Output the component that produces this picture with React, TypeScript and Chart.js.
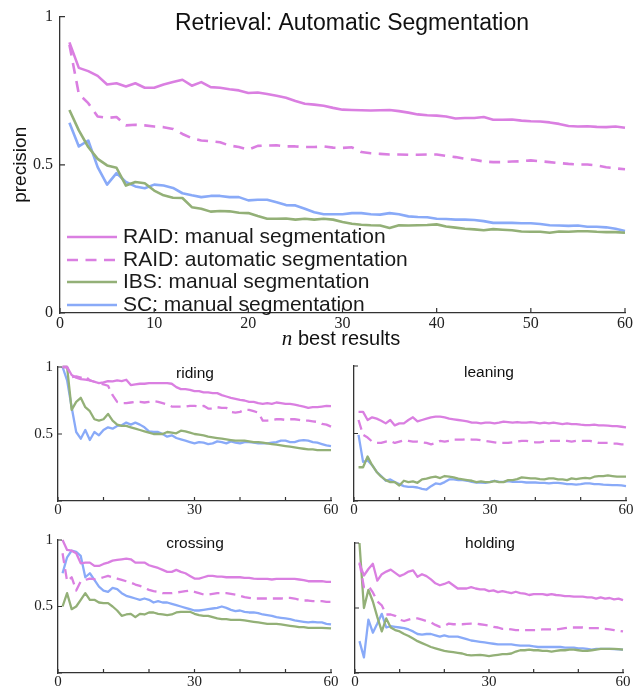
import React, { useEffect, useRef } from "react";
import { Chart, registerables } from "chart.js";

Chart.register(...registerables);

// ---------- data ----------
const nBest = [
  1, 2, 3, 4, 5, 6, 7, 8, 9, 10, 11, 12, 13, 14, 15, 16, 17, 18, 19, 20,
  21, 22, 23, 24, 25, 26, 27, 28, 29, 30, 31, 32, 33, 34, 35, 36, 37, 38, 39, 40,
  41, 42, 43, 44, 45, 46, 47, 48, 49, 50, 51, 52, 53, 54, 55, 56, 57, 58, 59, 60,
];

const seriesLabels = [
  "RAID: manual segmentation",
  "RAID: automatic segmentation",
  "IBS: manual segmentation",
  "SC: manual segmentation",
];

const mainTitle = "Retrieval: Automatic Segmentation";
const yAxisTitle = "precision";
const xAxisTitleItalic = "n";
const xAxisTitleRest = " best results";

const mainXTickLabels = [0, 10, 20, 30, 40, 50, 60];
const mainYTickLabels = [0, 0.5, 1];
const smallXTickLabels = [0, 30, 60];
const smallYTickLabels = [0.5, 1];

const mainRaidManual = [0.913, 0.827, 0.816, 0.8, 0.771, 0.775, 0.764, 0.775, 0.76, 0.76, 0.771, 0.779, 0.787, 0.767, 0.779, 0.762, 0.76, 0.755, 0.751, 0.742, 0.744, 0.739, 0.733, 0.726, 0.715, 0.706, 0.703, 0.699, 0.692, 0.686, 0.685, 0.684, 0.683, 0.684, 0.685, 0.681, 0.676, 0.67, 0.667, 0.666, 0.663, 0.656, 0.658, 0.658, 0.661, 0.652, 0.652, 0.653, 0.649, 0.647, 0.646, 0.643, 0.638, 0.631, 0.629, 0.63, 0.628, 0.627, 0.629, 0.625];
const mainRaidAuto = [0.905, 0.739, 0.708, 0.663, 0.658, 0.661, 0.633, 0.635, 0.633, 0.629, 0.627, 0.621, 0.604, 0.59, 0.582, 0.58, 0.576, 0.565, 0.56, 0.551, 0.564, 0.565, 0.566, 0.562, 0.562, 0.56, 0.56, 0.562, 0.558, 0.557, 0.559, 0.543, 0.539, 0.537, 0.535, 0.535, 0.534, 0.534, 0.535, 0.535, 0.53, 0.526, 0.52, 0.517, 0.511, 0.509, 0.509, 0.511, 0.512, 0.515, 0.512, 0.509, 0.506, 0.503, 0.501, 0.501, 0.498, 0.492, 0.488, 0.485];
const mainIbs = [0.685, 0.616, 0.56, 0.52, 0.498, 0.49, 0.43, 0.442, 0.438, 0.413, 0.397, 0.389, 0.388, 0.357, 0.352, 0.342, 0.344, 0.343, 0.338, 0.337, 0.327, 0.318, 0.318, 0.319, 0.315, 0.318, 0.315, 0.318, 0.315, 0.307, 0.301, 0.298, 0.296, 0.295, 0.287, 0.296, 0.295, 0.296, 0.297, 0.299, 0.292, 0.288, 0.284, 0.282, 0.279, 0.283, 0.281, 0.279, 0.275, 0.274, 0.274, 0.271, 0.275, 0.274, 0.276, 0.276, 0.274, 0.273, 0.273, 0.271];
const mainSc = [0.642, 0.562, 0.582, 0.492, 0.433, 0.472, 0.442, 0.427, 0.421, 0.433, 0.43, 0.422, 0.404, 0.397, 0.391, 0.395, 0.395, 0.391, 0.391, 0.38, 0.382, 0.382, 0.374, 0.364, 0.363, 0.352, 0.34, 0.333, 0.333, 0.333, 0.337, 0.337, 0.333, 0.332, 0.337, 0.333, 0.326, 0.324, 0.323, 0.318, 0.317, 0.315, 0.315, 0.314, 0.31, 0.304, 0.304, 0.304, 0.303, 0.303, 0.3, 0.296, 0.295, 0.294, 0.295, 0.291, 0.291, 0.289, 0.284, 0.277];

const ridingRaidManual = [1.0, 1.0, 0.94, 0.92, 0.91, 0.905, 0.9, 0.89, 0.88, 0.885, 0.895, 0.893, 0.9, 0.895, 0.905, 0.865, 0.87, 0.875, 0.875, 0.88, 0.88, 0.88, 0.88, 0.88, 0.875, 0.85, 0.835, 0.835, 0.83, 0.82, 0.82, 0.81, 0.81, 0.805, 0.805, 0.79, 0.78, 0.77, 0.763, 0.755, 0.75, 0.74, 0.74, 0.73, 0.725, 0.73, 0.725, 0.735, 0.73, 0.725, 0.725, 0.72, 0.712, 0.705, 0.695, 0.7, 0.7, 0.705, 0.71, 0.708];
const ridingRaidAuto = [1.0, 1.0, 0.925, 0.93, 0.92, 0.93, 0.9, 0.89, 0.88, 0.87, 0.86, 0.79, 0.74, 0.73, 0.73, 0.735, 0.74, 0.74, 0.735, 0.74, 0.745, 0.74, 0.73, 0.72, 0.705, 0.705, 0.705, 0.705, 0.71, 0.71, 0.705, 0.71, 0.69, 0.69, 0.7, 0.695, 0.695, 0.665, 0.66, 0.665, 0.68, 0.68, 0.67, 0.66, 0.6, 0.6, 0.605, 0.61, 0.61, 0.605, 0.61, 0.61, 0.605, 0.6, 0.6, 0.595, 0.59, 0.575, 0.57, 0.555];
const ridingIbs = [1.0, 1.0, 0.68, 0.74, 0.77, 0.7, 0.67, 0.61, 0.6, 0.61, 0.65, 0.6, 0.57, 0.56, 0.56, 0.55, 0.54, 0.53, 0.52, 0.51, 0.5, 0.5, 0.5, 0.515, 0.51, 0.505, 0.525, 0.52, 0.51, 0.5, 0.495, 0.49, 0.48, 0.475, 0.47, 0.465, 0.46, 0.455, 0.45, 0.45, 0.45, 0.445, 0.44, 0.44, 0.435, 0.43, 0.425, 0.42, 0.415, 0.41, 0.405, 0.4, 0.395, 0.39, 0.385, 0.385, 0.38, 0.38, 0.38, 0.38];
const ridingSc = [1.0, 0.9, 0.7, 0.515, 0.465, 0.53, 0.455, 0.515, 0.49, 0.53, 0.55, 0.54, 0.56, 0.565, 0.585, 0.57, 0.585, 0.57, 0.55, 0.52, 0.515, 0.515, 0.5, 0.48, 0.49, 0.47, 0.46, 0.45, 0.44, 0.43, 0.44, 0.435, 0.425, 0.43, 0.445, 0.44, 0.43, 0.445, 0.435, 0.43, 0.44, 0.44, 0.435, 0.43, 0.43, 0.43, 0.435, 0.44, 0.45, 0.45, 0.44, 0.44, 0.45, 0.455, 0.45, 0.44, 0.435, 0.425, 0.415, 0.41];

const leaningRaidManual = [0.66, 0.66, 0.6, 0.62, 0.61, 0.595, 0.575, 0.6, 0.56, 0.575, 0.575, 0.6, 0.62, 0.59, 0.6, 0.61, 0.62, 0.625, 0.625, 0.62, 0.61, 0.605, 0.6, 0.595, 0.59, 0.58, 0.58, 0.575, 0.58, 0.58, 0.575, 0.58, 0.588, 0.585, 0.58, 0.585, 0.58, 0.58, 0.585, 0.58, 0.575, 0.58, 0.575, 0.58, 0.575, 0.57, 0.575, 0.57, 0.57, 0.565, 0.562, 0.562, 0.565, 0.56, 0.56, 0.558, 0.555, 0.555, 0.55, 0.545];
const leaningRaidAuto = [0.6, 0.49, 0.47, 0.44, 0.43, 0.43, 0.44, 0.445, 0.43, 0.44, 0.45, 0.445, 0.44, 0.44, 0.435, 0.43, 0.42, 0.43, 0.445, 0.44, 0.445, 0.455, 0.455, 0.455, 0.46, 0.455, 0.455, 0.45, 0.445, 0.44, 0.435, 0.43, 0.43, 0.43, 0.435, 0.44, 0.445, 0.445, 0.44, 0.435, 0.435, 0.44, 0.445, 0.445, 0.445, 0.445, 0.445, 0.44, 0.445, 0.445, 0.445, 0.445, 0.44, 0.43, 0.43, 0.43, 0.425, 0.425, 0.42, 0.42];
const leaningIbs = [0.25, 0.25, 0.33, 0.265, 0.215, 0.18, 0.155, 0.14, 0.14, 0.115, 0.15, 0.14, 0.145, 0.135, 0.16, 0.165, 0.175, 0.18, 0.17, 0.185, 0.18, 0.175, 0.165, 0.16, 0.155, 0.15, 0.14, 0.145, 0.14, 0.14, 0.148, 0.14, 0.14, 0.155, 0.155, 0.162, 0.175, 0.172, 0.167, 0.167, 0.162, 0.16, 0.167, 0.167, 0.16, 0.16, 0.155, 0.167, 0.162, 0.167, 0.172, 0.167, 0.18, 0.185, 0.185, 0.19, 0.185, 0.18, 0.18, 0.18];
const leaningSc = [0.49, 0.29, 0.3, 0.265, 0.215, 0.185, 0.15, 0.16, 0.14, 0.125, 0.11, 0.105, 0.105, 0.1, 0.09, 0.085, 0.11, 0.13, 0.125, 0.14, 0.16, 0.16, 0.155, 0.155, 0.15, 0.142, 0.137, 0.137, 0.135, 0.142, 0.15, 0.142, 0.142, 0.147, 0.142, 0.142, 0.142, 0.137, 0.137, 0.137, 0.135, 0.135, 0.13, 0.135, 0.135, 0.13, 0.125, 0.125, 0.122, 0.125, 0.13, 0.13, 0.125, 0.125, 0.122, 0.12, 0.117, 0.117, 0.115, 0.11];

const crossingRaidManual = [1.0, 0.925, 0.92, 0.9, 0.825, 0.83, 0.83, 0.805, 0.805, 0.82, 0.83, 0.845, 0.85, 0.855, 0.86, 0.855, 0.83, 0.83, 0.83, 0.81, 0.8, 0.79, 0.775, 0.76, 0.76, 0.775, 0.76, 0.75, 0.73, 0.71, 0.71, 0.72, 0.73, 0.73, 0.725, 0.725, 0.72, 0.72, 0.72, 0.72, 0.715, 0.715, 0.71, 0.708, 0.708, 0.708, 0.703, 0.708, 0.708, 0.708, 0.708, 0.708, 0.703, 0.698, 0.69, 0.69, 0.69, 0.69, 0.685, 0.685];
const crossingRaidAuto = [0.9, 0.69, 0.72, 0.62, 0.69, 0.7, 0.71, 0.705, 0.71, 0.72, 0.73, 0.72, 0.71, 0.7, 0.69, 0.68, 0.665, 0.655, 0.64, 0.625, 0.615, 0.61, 0.6, 0.6, 0.6, 0.605, 0.61, 0.615, 0.62, 0.61, 0.6, 0.59, 0.59, 0.595, 0.6, 0.6, 0.6, 0.595, 0.59, 0.58, 0.57, 0.565, 0.56, 0.56, 0.56, 0.56, 0.56, 0.56, 0.56, 0.565, 0.565, 0.56, 0.55, 0.545, 0.545, 0.54, 0.54, 0.54, 0.535, 0.535];
const crossingIbs = [0.5, 0.6, 0.48, 0.5, 0.55, 0.6, 0.55, 0.55, 0.53, 0.525, 0.525, 0.5, 0.47, 0.43, 0.44, 0.445, 0.42, 0.445, 0.44, 0.455, 0.455, 0.445, 0.44, 0.435, 0.44, 0.455, 0.46, 0.46, 0.46, 0.445, 0.435, 0.43, 0.43, 0.42, 0.41, 0.405, 0.405, 0.4, 0.4, 0.4, 0.395, 0.39, 0.385, 0.38, 0.375, 0.37, 0.37, 0.37, 0.365, 0.36, 0.355, 0.35, 0.345, 0.345, 0.34, 0.34, 0.34, 0.34, 0.338, 0.335];
const crossingSc = [0.75, 0.87, 0.92, 0.91, 0.88, 0.72, 0.75, 0.7, 0.65, 0.62, 0.61, 0.64, 0.63, 0.6, 0.58, 0.57, 0.56, 0.55, 0.56, 0.55, 0.53, 0.54, 0.53, 0.53, 0.52, 0.51, 0.5, 0.49, 0.48, 0.47, 0.47, 0.475, 0.48, 0.485, 0.49, 0.5, 0.49, 0.475, 0.465, 0.47, 0.46, 0.455, 0.455, 0.45, 0.44, 0.435, 0.43, 0.42, 0.415, 0.41, 0.405, 0.395, 0.39, 0.385, 0.38, 0.385, 0.38, 0.38, 0.37, 0.365];

const holdingRaidManual = [0.84, 0.75, 0.8, 0.84, 0.71, 0.76, 0.78, 0.795, 0.77, 0.745, 0.76, 0.78, 0.79, 0.74, 0.76, 0.745, 0.72, 0.69, 0.675, 0.685, 0.7, 0.675, 0.65, 0.65, 0.65, 0.66, 0.65, 0.643, 0.643, 0.63, 0.635, 0.622, 0.63, 0.622, 0.615, 0.625, 0.615, 0.61, 0.6, 0.607, 0.607, 0.607, 0.6, 0.607, 0.6, 0.597, 0.592, 0.592, 0.587, 0.587, 0.587, 0.582, 0.582, 0.572, 0.582, 0.572, 0.577, 0.567, 0.572, 0.56];
const holdingRaidAuto = [0.85, 0.66, 0.67, 0.62, 0.55, 0.52, 0.45, 0.45, 0.44, 0.41, 0.4, 0.41, 0.42, 0.42, 0.41, 0.4, 0.39, 0.37, 0.355, 0.36, 0.38, 0.375, 0.375, 0.375, 0.378, 0.38, 0.38, 0.375, 0.37, 0.365, 0.355, 0.35, 0.34, 0.34, 0.335, 0.33, 0.33, 0.33, 0.33, 0.33, 0.33, 0.335, 0.335, 0.335, 0.335, 0.34, 0.345, 0.35, 0.35, 0.35, 0.35, 0.345, 0.345, 0.345, 0.345, 0.34, 0.335, 0.33, 0.325, 0.32];
const holdingIbs = [1.0, 0.5, 0.64, 0.55, 0.43, 0.32, 0.42, 0.35, 0.33, 0.32, 0.3, 0.285, 0.265, 0.245, 0.23, 0.215, 0.2, 0.19, 0.18, 0.17, 0.165, 0.16, 0.155, 0.15, 0.14, 0.135, 0.138, 0.14, 0.135, 0.13, 0.135, 0.14, 0.145, 0.145, 0.15, 0.165, 0.175, 0.175, 0.18, 0.175, 0.175, 0.17, 0.17, 0.165, 0.17, 0.175, 0.175, 0.18, 0.18, 0.175, 0.17, 0.17, 0.175, 0.18, 0.185, 0.185, 0.185, 0.185, 0.183, 0.18];
const holdingSc = [0.245, 0.12, 0.41, 0.31, 0.38, 0.455, 0.35, 0.36, 0.355, 0.35, 0.345, 0.335, 0.32, 0.3, 0.295, 0.3, 0.3, 0.29, 0.28, 0.29, 0.28, 0.28, 0.28, 0.27, 0.26, 0.25, 0.245, 0.24, 0.235, 0.23, 0.225, 0.22, 0.22, 0.22, 0.22, 0.215, 0.21, 0.21, 0.21, 0.205, 0.2, 0.2, 0.2, 0.2, 0.2, 0.2, 0.195, 0.195, 0.195, 0.19, 0.19, 0.185, 0.18, 0.185, 0.185, 0.185, 0.185, 0.183, 0.182, 0.18];

// ---------- styles ----------
const PINK = "#da7fe1";
const GREEN = "#93b077";
const BLUE = "#89aaf8";
const AXIS = "#333333";
const TEXT = "#111111";
const SANS = '"Liberation Sans", Arial, sans-serif';
const SERIF = '"Liberation Serif", "Times New Roman", serif';
const seriesColors = [PINK, PINK, GREEN, BLUE];

type Rect = { left: number; top: number; width: number; height: number };
type Plot = { left: number; top: number; right: number; bottom: number };
type Panel = {
  key: string;
  box: Rect;
  plot: Plot;
  series: number[][];
  title: string;
  titleX: number;
  titleBaseline: number;
  titleSize: number;
  xLabels: number[];
  yLabels: number[];
  tickSize: number;
  xTickPad: number;
  yTickPad: number;
  lineWidth: number;
  dash: number[];
  tickLen: number;
  main: boolean;
};

const panels: Panel[] = [
  {
    key: "main",
    box: { left: 0, top: 0, width: 634, height: 352 },
    plot: { left: 60, top: 16, right: 626, bottom: 313 },
    series: [mainRaidManual, mainRaidAuto, mainIbs, mainSc],
    title: mainTitle,
    titleX: 352,
    titleBaseline: 30,
    titleSize: 23,
    xLabels: mainXTickLabels,
    yLabels: mainYTickLabels,
    tickSize: 16,
    xTickPad: 1,
    yTickPad: 7,
    lineWidth: 2.6,
    dash: [11, 7.5],
    tickLen: 5,
    main: true,
  },
  {
    key: "riding",
    box: { left: 0, top: 352, width: 343, height: 170 },
    plot: { left: 58, top: 367, right: 331, bottom: 501 },
    series: [ridingRaidManual, ridingRaidAuto, ridingIbs, ridingSc],
    title: "riding",
    titleX: 195,
    titleBaseline: 378,
    titleSize: 15.5,
    xLabels: smallXTickLabels,
    yLabels: smallYTickLabels,
    tickSize: 15,
    xTickPad: 0,
    yTickPad: 5,
    lineWidth: 2.3,
    dash: [10, 6],
    tickLen: 4,
    main: false,
  },
  {
    key: "leaning",
    box: { left: 343, top: 352, width: 291, height: 170 },
    plot: { left: 354, top: 366, right: 626, bottom: 501 },
    series: [leaningRaidManual, leaningRaidAuto, leaningIbs, leaningSc],
    title: "leaning",
    titleX: 489,
    titleBaseline: 377,
    titleSize: 15.5,
    xLabels: smallXTickLabels,
    yLabels: [],
    tickSize: 15,
    xTickPad: 0,
    yTickPad: 5,
    lineWidth: 2.3,
    dash: [10, 6],
    tickLen: 4,
    main: false,
  },
  {
    key: "crossing",
    box: { left: 0, top: 522, width: 343, height: 170 },
    plot: { left: 58, top: 540, right: 331, bottom: 673 },
    series: [crossingRaidManual, crossingRaidAuto, crossingIbs, crossingSc],
    title: "crossing",
    titleX: 195,
    titleBaseline: 548,
    titleSize: 15.5,
    xLabels: smallXTickLabels,
    yLabels: smallYTickLabels,
    tickSize: 15,
    xTickPad: 0,
    yTickPad: 5,
    lineWidth: 2.3,
    dash: [10, 6],
    tickLen: 4,
    main: false,
  },
  {
    key: "holding",
    box: { left: 343, top: 522, width: 291, height: 170 },
    plot: { left: 355, top: 543, right: 623, bottom: 673 },
    series: [holdingRaidManual, holdingRaidAuto, holdingIbs, holdingSc],
    title: "holding",
    titleX: 490,
    titleBaseline: 548,
    titleSize: 15.5,
    xLabels: smallXTickLabels,
    yLabels: [],
    tickSize: 15,
    xTickPad: 0,
    yTickPad: 5,
    lineWidth: 2.3,
    dash: [10, 6],
    tickLen: 4,
    main: false,
  },
];

// legend geometry for main chart (page coordinates)
const legendLineX = [67, 117];
const legendTextX = 123;
const legendLineY = [237, 260, 282, 305];
const legendBaseY = [243, 266, 288, 311];
const legendFontSize = 21;

function decoPlugin(p: Panel) {
  return {
    id: "deco_" + p.key,
    afterDraw(chart: any) {
      const ctx: CanvasRenderingContext2D = chart.ctx;
      const { left, bottom } = chart.chartArea;
      const xs = chart.scales.x;
      const ys = chart.scales.y;
      const ox = p.box.left;
      const oy = p.box.top;
      ctx.save();
      // inward tick marks
      ctx.strokeStyle = AXIS;
      ctx.lineWidth = 1.2;
      ctx.setLineDash([]);
      ctx.beginPath();
      xs.ticks.forEach((t: any) => {
        const px = xs.getPixelForValue(t.value);
        ctx.moveTo(px, bottom);
        ctx.lineTo(px, bottom - p.tickLen);
      });
      ys.ticks.forEach((t: any) => {
        const py = ys.getPixelForValue(t.value);
        ctx.moveTo(left, py);
        ctx.lineTo(left + p.tickLen, py);
      });
      ctx.stroke();

      // title
      ctx.fillStyle = TEXT;
      ctx.font = `${p.titleSize}px ${SANS}`;
      ctx.textAlign = "center";
      ctx.textBaseline = "alphabetic";
      ctx.fillText(p.title, p.titleX - ox, p.titleBaseline - oy);

      if (p.main) {
        // legend
        seriesLabels.forEach((lab, i) => {
          ctx.strokeStyle = seriesColors[i];
          ctx.lineWidth = p.lineWidth;
          ctx.setLineDash(i === 1 ? p.dash : []);
          ctx.beginPath();
          ctx.moveTo(legendLineX[0] - ox, legendLineY[i] - oy);
          ctx.lineTo(legendLineX[1] - ox, legendLineY[i] - oy);
          ctx.stroke();
          ctx.setLineDash([]);
          ctx.fillStyle = "#1a1a1a";
          ctx.font = `${legendFontSize}px ${SANS}`;
          ctx.textAlign = "left";
          ctx.fillText(lab, legendTextX - ox, legendBaseY[i] - oy);
        });
        // x axis title with italic n
        ctx.fillStyle = TEXT;
        ctx.textAlign = "left";
        ctx.font = `italic 21px ${SERIF}`;
        const wN = ctx.measureText(xAxisTitleItalic).width;
        ctx.font = `20px ${SANS}`;
        const wR = ctx.measureText(xAxisTitleRest).width;
        const start = 341 - (wN + wR) / 2;
        ctx.font = `italic 21px ${SERIF}`;
        ctx.fillText(xAxisTitleItalic, start, 345);
        ctx.font = `20px ${SANS}`;
        ctx.fillText(xAxisTitleRest, start + wN, 345);
      }
      ctx.restore();
    },
  };
}

function buildConfig(p: Panel): any {
  const datasets = p.series.map((vals, i) => ({
    label: seriesLabels[i],
    data: vals.map((v, k) => ({ x: nBest[k], y: v })),
    borderColor: seriesColors[i],
    backgroundColor: seriesColors[i],
    borderWidth: p.lineWidth,
    borderDash: i === 1 ? p.dash : [],
    borderCapStyle: "butt",
    borderJoinStyle: "round",
    pointRadius: 0,
    pointHoverRadius: 0,
    tension: 0,
    fill: false,
    clip: 6,
  }));
  const xH = p.box.top + p.box.height - p.plot.bottom;
  const yW = p.plot.left - p.box.left;
  return {
    type: "line",
    data: { datasets },
    options: {
      responsive: false,
      maintainAspectRatio: false,
      animation: false,
      events: [],
      layout: {
        padding: {
          left: 0,
          top: p.plot.top - p.box.top,
          right: p.box.left + p.box.width - p.plot.right,
          bottom: 0,
        },
      },
      plugins: {
        legend: { display: false },
        title: { display: false },
        tooltip: { enabled: false },
      },
      scales: {
        x: {
          type: "linear",
          min: 0,
          max: 60,
          afterFit: (s: any) => {
            s.height = xH;
          },
          ticks: {
            stepSize: 10,
            autoSkip: false,
            maxRotation: 0,
            minRotation: 0,
            padding: p.xTickPad,
            color: "#222",
            font: { family: SERIF, size: p.tickSize },
            callback: (v: number) => (p.xLabels.includes(v) ? String(v) : ""),
          },
          grid: { display: false, drawTicks: false },
          border: { display: true, color: AXIS, width: 1.3 },
        },
        y: {
          type: "linear",
          min: 0,
          max: 1,
          afterFit: (s: any) => {
            s.width = yW;
          },
          ticks: {
            stepSize: 0.5,
            autoSkip: false,
            padding: p.yTickPad,
            color: "#222",
            font: { family: SERIF, size: p.tickSize },
            callback: (v: number) => (p.yLabels.includes(v) ? String(v) : ""),
          },
          title: p.main
            ? {
                display: true,
                text: yAxisTitle,
                color: TEXT,
                font: { family: SANS, size: 19 },
                padding: { top: 9, bottom: 0 },
              }
            : { display: false },
          grid: { display: false, drawTicks: false },
          border: { display: true, color: AXIS, width: 1.3 },
        },
      },
    },
    plugins: [decoPlugin(p)],
  };
}

function PanelChart({ p }: { p: Panel }) {
  const ref = useRef<HTMLCanvasElement | null>(null);
  useEffect(() => {
    if (!ref.current) return;
    const chart = new Chart(ref.current, buildConfig(p));
    return () => chart.destroy();
  }, [p]);
  return (
    <canvas
      ref={ref}
      width={p.box.width}
      height={p.box.height}
      style={{
        position: "absolute",
        left: p.box.left,
        top: p.box.top,
        width: p.box.width,
        height: p.box.height,
      }}
    />
  );
}

export default function App() {
  return (
    <div
      style={{
        position: "absolute",
        left: 0,
        top: 0,
        width: 634,
        height: 692,
        background: "#ffffff",
        overflow: "hidden",
      }}
    >
      {panels.map((p) => (
        <PanelChart key={p.key} p={p} />
      ))}
    </div>
  );
}
